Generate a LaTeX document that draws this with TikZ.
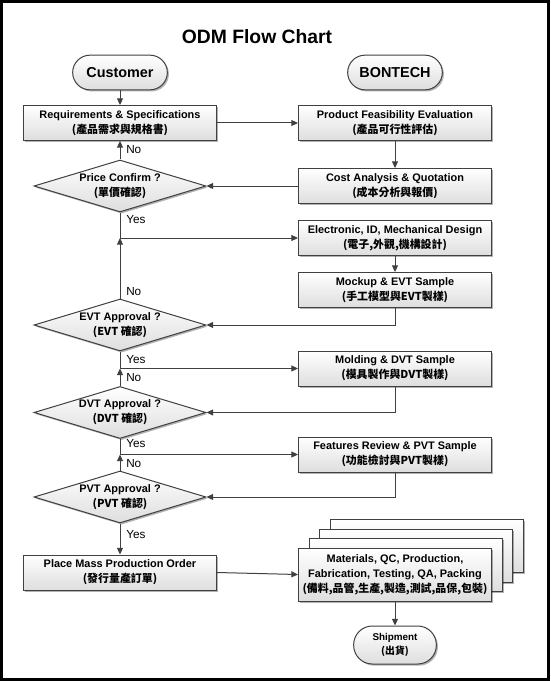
\documentclass[tikz,border=0pt]{standalone}
\usepackage{fontspec}
\setmainfont{Liberation Sans}
\newfontfamily\cjk{Noto Sans CJK TC}
\usetikzlibrary{shapes.geometric,arrows.meta,shadows}
\definecolor{edge}{HTML}{404040}
\newcommand\zh[1]{{\cjk #1}}
\tikzset{
  shad/.style={drop shadow={shadow xshift=1.2pt,shadow yshift=-1.2pt,opacity=0.3,fill=black}},
  box/.style={draw=edge,line width=0.75pt,top color=white,bottom color=black!13,
    minimum width=144.75pt,minimum height=26.25pt,inner sep=0pt,align=center,
    font=\fontsize{8.2}{11.25}\selectfont\bfseries,shad},
  dia/.style={shape=diamond,draw=edge,line width=0.75pt,top color=white,bottom color=black!13,
    minimum width=129pt,minimum height=39pt,inner sep=0pt,shad},
  dtext/.style={align=center,inner sep=0pt,font=\fontsize{8.2}{11.25}\selectfont\bfseries},
  term/.style={draw=edge,line width=0.75pt,top color=white,bottom color=black!13,
    rounded corners=13pt,minimum width=71pt,minimum height=26pt,inner sep=0pt,
    font=\fontsize{10.8}{13}\selectfont\bfseries,shad},
  arr/.style={draw=edge,line width=0.75pt,-{Triangle[length=5pt,width=4.5pt]}},
  ln/.style={draw=edge,line width=0.75pt},
  lab/.style={anchor=west,inner sep=0pt,font=\fontsize{8.8}{10}\selectfont}
}
\begin{document}
\begin{tikzpicture}[x=0.75pt,y=-0.75pt]
\useasboundingbox (0,0) rectangle (550,681);
\fill[white] (0,0) rectangle (550,681);
\draw[line width=2.25pt,black] (1.5,1.5) rectangle (548.5,679.5);

\node[font=\fontsize{14.5}{17}\selectfont\bfseries] (title) at (257,37) {ODM Flow Chart};

\node[term] (cust) at (120,72.5) {Customer};
\node[term] (bont) at (395,72.5) {BONTECH};

\node[box] (req) at (120,123) {Requirements \& Specifications\\\zh{(產品需求與規格書)}};
\node[box] (pfe) at (395,123) {Product Feasibility Evaluation\\\zh{(產品可行性評估)}};

\node[dia] (pc) at (120,186) {};
\node[dtext] (pcT) at (pc) {Price Confirm ?\\\zh{(單價確認)}};
\node[box] (cost) at (395,186) {Cost Analysis \& Quotation\\\zh{(成本分析與報價)}};

\node[box] (elec) at (395,238) {Electronic, ID, Mechanical Design\\\zh{(電子,外觀,機構設計)}};
\node[box] (mock) at (395,290) {Mockup \& EVT Sample\\\zh{(手工模型與EVT製樣)}};

\node[dia] (evt) at (120,325) {};
\node[dtext] (evtT) at (evt) {EVT Approval ?\\\zh{(EVT 確認)}};

\node[box] (mold) at (395,368.5) {Molding \& DVT Sample\\\zh{(模具製作與DVT製樣)}};

\node[dia] (dvt) at (120,412.5) {};
\node[dtext] (dvtT) at (dvt) {DVT Approval ?\\\zh{(DVT 確認)}};

\node[box] (feat) at (395,454.5) {Features Review \& PVT Sample\\\zh{(功能檢討與PVT製樣)}};

\node[dia] (pvt) at (120,497) {};
\node[dtext] (pvtT) at (pvt) {PVT Approval ?\\\zh{(PVT 確認)}};

\node[box] (place) at (120,572.5) {Place Mass Production Order\\\zh{(發行量產訂單)}};

\node[box,minimum height=39.75pt] (mat3) at (426.5,546) {};
\node[box,minimum height=39.75pt] (mat2) at (416,555.5) {};
\node[box,minimum height=39.75pt] (mat1) at (405.5,565) {};
\node[box,minimum height=39.75pt] (mat) at (395,574.5) {Materials, QC, Production,\\Fabrication, Testing, QA, Packing\\\zh{(備料,品管,生產,製造,測試,品保,包裝)}};

\node[term,rounded corners=14pt,minimum width=62pt,minimum height=28.5pt,
  font=\fontsize{7.4}{11}\selectfont\bfseries,align=center] (ship) at (395,645) {Shipment\\\zh{(出貨)}};

% connectors
\draw[arr] (cust) -- (req);
\draw[arr] (req) -- (pfe);
\draw[arr] (pfe) -- (cost);
\draw[arr] (cost) -- (pc.east);
\draw[arr] (pc.north) -- (req.south);
\node[lab] (no1) at (126,150) {No};
\draw[ln] (pc.south) -- (pc.south |- elec.west);
\node[lab] (yes1) at (126,220) {Yes};
\draw[arr] (pc.south |- elec.west) -- (elec.west);
\draw[arr] (evt.north) -- (evt.north |- elec.west);
\node[lab] (no2) at (126,292) {No};
\draw[arr] (elec) -- (mock);
\draw[arr] (mock.south) |- (evt.east);

\draw[ln] (evt.south) -- (evt.south |- mold.west);
\node[lab] (yes2) at (126,360) {Yes};
\draw[arr] (evt.south |- mold.west) -- (mold.west);
\draw[arr] (dvt.north) -- (dvt.north |- mold.west);
\node[lab] (no3) at (126,377.5) {No};
\draw[arr] (mold.south) |- (dvt.east);

\draw[ln] (dvt.south) -- (dvt.south |- feat.west);
\node[lab] (yes3) at (126,443.5) {Yes};
\draw[arr] (dvt.south |- feat.west) -- (feat.west);
\draw[arr] (pvt.north) -- (pvt.north |- feat.west);
\node[lab] (no4) at (126,464) {No};
\draw[arr] (feat.south) |- (pvt.east);

\draw[arr] (pvt.south) -- (place.north);
\node[lab] (yes4) at (126,535) {Yes};
\draw[arr] (place.east) -- (mat.west);
\draw[arr] (mat) -- (ship);
\end{tikzpicture}
\end{document}
